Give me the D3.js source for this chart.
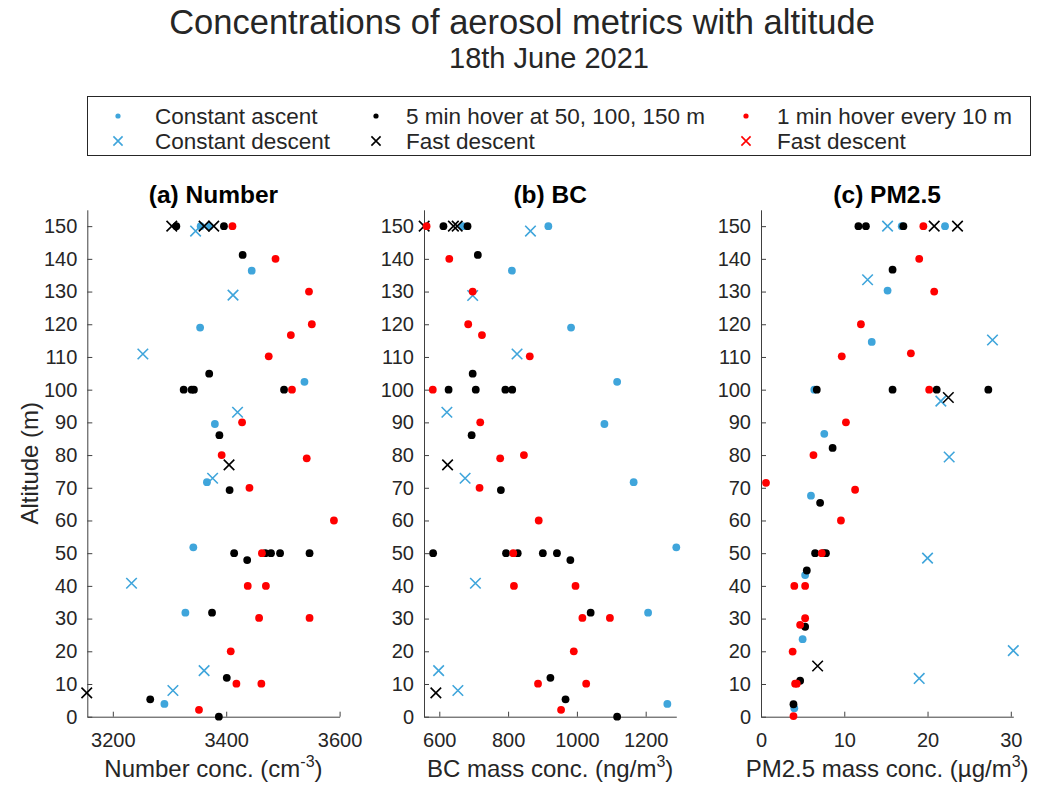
<!DOCTYPE html>
<html>
<head>
<meta charset="utf-8">
<script src="https://cdn.jsdelivr.net/npm/d3@7"></script>
<style>
  body { margin: 0; background: #fff; }
  text { font-family: "Liberation Sans", Arial, Helvetica, sans-serif; fill: #262626; }
</style>
</head>
<body>
<svg id="chart" width="1043" height="792"></svg>
<script>
const BLUE = "#3fa5db";
const RED = "#ff0000";
const BLACK = "#000000";

// [value, altitude]
const numberAscent = [[3355,150],[3370,150],[3445,136.4],[3354,119],[3538,102.4],[3380,89.5],[3366,71.7],[3342,51.8],[3328,31.8],[3291,3.9]];
const numberDescent = [[3346,148.5],[3412,128.9],[3253,110.9],[3420,93.1],[3376,72.9],[3233,40.8],[3361,14.1],[3306,8]];
const numberHover5 = [[3312,150],[3396,150],[3429,141.2],[3370,104.9],[3325,100],[3339,100],[3343,100],[3502,100],[3388,86.1],[3406,69.3],[3414,50],[3469,50],[3479,50],[3495,50],[3547,50],[3437,47.9],[3375,31.8],[3401,11.9],[3266,5.3],[3387,0]];
const numberFast = [[3304,150],[3361,150],[3378,150],[3405,77],[3154,7.3]];
const numberHover1 = [[3411,150],[3487,140],[3546,130],[3551,120],[3514,116.7],[3475,110.2],[3516,100],[3428,90],[3392,80],[3542,79],[3441,70],[3590,60],[3463,50],[3438,40],[3470,40],[3458,30.2],[3547,30.2],[3408,20],[3418,10.1],[3462,10.1],[3352,2.1]];
const numberFastRed = [];

const bcAscent = [[668,150],[917,150],[811,136.4],[983,119],[1117,102.4],[1080,89.5],[1165,71.7],[1289,51.8],[1207,31.8],[1263,3.9]];
const bcDescent = [[865,148.5],[697,128.8],[826,110.9],[622,93.1],[675,72.9],[705,40.8],[598,14.1],[654,8]];
const bcHover5 = [[612,150],[682,150],[712,141.2],[697,104.9],[627,100],[706,100],[792,100],[812,100],[694,86.1],[779,69.3],[582,50],[794,50],[828,50],[901,50],[942,50],[981,47.9],[1040,31.8],[923,11.9],[967,5.3],[1117,0]];
const bcFast = [[556,150],[641,150],[652,150],[624,77],[590,7.3]];
const bcHover1 = [[563,150],[629,140],[697,130],[684,120],[724,116.7],[863,110.2],[581,100],[719,90],[777,79],[846,80],[717,70],[889,60],[815,50],[817,40],[996,40],[1016,30.2],[1096,30.2],[991,20],[887,10.1],[1027,10.1],[954,2.1]];
const bcFastRed = [];

const pmAscent = [[16.9,150],[22.1,150],[15.2,130.3],[13.3,114.6],[6.4,100],[7.6,86.5],[6.0,67.6],[5.3,43.3],[5.0,23.7],[4.0,2.6]];
const pmDescent = [[15.2,150],[12.8,133.6],[27.8,115.2],[21.6,96.5],[22.6,79.4],[20.0,48.5],[30.3,20.2],[19.0,11.7]];
const pmHover5 = [[11.7,150],[12.6,150],[17.1,150],[15.8,136.7],[6.7,100],[15.8,100],[21.1,100],[27.3,100],[8.6,82.2],[7.1,65.4],[6.5,50],[7.5,50],[7.8,50],[5.5,44.7],[5.3,27.5],[4.7,11.0],[3.9,3.8]];
const pmFast = [[20.8,150],[23.6,150],[22.5,97.6],[6.8,15.5]];
const pmHover1 = [[19.5,150],[19.0,140],[20.8,130],[12.0,120],[18.0,111.1],[9.7,110.2],[20.2,100],[10.2,90],[6.3,80],[0.6,71.5],[11.3,69.4],[9.6,60],[7.3,50],[4.0,40],[5.3,40],[5.3,30.1],[4.7,28.1],[3.8,19.9],[4.1,10.1],[4.3,10.1],[3.9,0.2]];
const pmFastRed = [];

const altTicks = d3.range(0, 151, 10);
const numberTicks = [3200, 3400, 3600];
const bcTicks = [600, 800, 1000, 1200];
const pmTicks = [0, 10, 20, 30];

const legendLabels = ["Constant ascent", "5 min hover at 50, 100, 150 m", "1 min hover every 10 m",
                      "Constant descent", "Fast descent", "Fast descent"];

const panels = [
    { title: "(a) Number", left: 87.3, domain: [3155, 3600], ticks: numberTicks,
      series: [numberAscent, numberDescent, numberHover5, numberFast, numberHover1, numberFastRed],
      xlabel: ["Number conc. (cm", "-3", ")"] },
    { title: "(b) BC", left: 424, domain: [555.5, 1289], ticks: bcTicks,
      series: [bcAscent, bcDescent, bcHover5, bcFast, bcHover1, bcFastRed],
      xlabel: ["BC mass conc. (ng/m", "3", ")"] },
    { title: "(c) PM2.5", left: 761, domain: [0, 30.3], ticks: pmTicks,
      series: [pmAscent, pmDescent, pmHover5, pmFast, pmHover1, pmFastRed],
      xlabel: ["PM2.5 mass conc. (\u00b5g/m", "3", ")"] }
];

// style per series, same order as panel.series
const styles = [
    { color: BLUE, shape: "dot" },
    { color: BLUE, shape: "x" },
    { color: BLACK, shape: "dot" },
    { color: BLACK, shape: "x" },
    { color: RED, shape: "dot" },
    { color: RED, shape: "x" }
];

const PLOT_W = 252.3;
const TOP = 209.8;
const BOTTOM = 716.7;

const svg = d3.select("#chart");

svg.append("text")
    .attr("x", 522).attr("y", 34)
    .attr("text-anchor", "middle")
    .style("font-size", "34.5px")
    .text("Concentrations of aerosol metrics with altitude");

svg.append("text")
    .attr("x", 549).attr("y", 68)
    .attr("text-anchor", "middle")
    .style("font-size", "29px")
    .text("18th June 2021");

const y = d3.scaleLinear().domain([0, 155]).range([BOTTOM, TOP]);

function drawMarker(g, shape, color, size) {
    if (shape === "dot") {
        g.append("circle").attr("r", size).attr("fill", color);
    } else {
        const s = size * 1.35;
        g.append("path")
            .attr("d", `M${-s},${-s}L${s},${s}M${-s},${s}L${s},${-s}`)
            .attr("stroke", color)
            .attr("stroke-width", 1.6)
            .attr("fill", "none");
    }
}

panels.forEach((p, pi) => {
    const x = d3.scaleLinear().domain(p.domain).range([p.left, p.left + PLOT_W]);
    const g = svg.append("g");

    const yAxis = g.append("g")
        .attr("transform", `translate(${p.left},0)`)
        .call(d3.axisLeft(y).tickValues(altTicks).tickSizeInner(-5).tickSizeOuter(0).tickPadding(10));

    const xAxis = g.append("g")
        .attr("transform", `translate(0,${BOTTOM})`)
        .call(d3.axisBottom(x).tickValues(p.ticks).tickFormat(d3.format("d"))
            .tickSizeInner(-5).tickSizeOuter(0).tickPadding(16));

    [xAxis, yAxis].forEach(a => {
        a.select(".domain").attr("stroke", "#404040");
        a.selectAll(".tick line").attr("stroke", "#404040");
        a.selectAll(".tick text")
            .style("font-size", "20px")
            .style("font-family", "'Liberation Sans', Arial, Helvetica, sans-serif")
            .attr("fill", "#262626");
    });

    p.series.forEach((data, si) => {
        const st = styles[si];
        g.append("g").selectAll("g")
            .data(data)
            .join("g")
            .attr("transform", d => `translate(${x(d[0])},${y(d[1])})`)
            .each(function() { drawMarker(d3.select(this), st.shape, st.color, 3.9); });
    });

    g.append("text")
        .attr("x", p.left + PLOT_W / 2).attr("y", 203)
        .attr("text-anchor", "middle")
        .style("font-size", "24.5px")
        .style("font-weight", "bold")
        .style("fill", "#000")
        .text(p.title);

    const xl = g.append("text")
        .attr("x", p.left + PLOT_W / 2).attr("y", 777)
        .attr("text-anchor", "middle")
        .style("font-size", "24px");
    xl.append("tspan").text(p.xlabel[0]);
    xl.append("tspan").attr("dy", -10).style("font-size", "16px").text(p.xlabel[1]);
    xl.append("tspan").attr("dy", 10).text(p.xlabel[2]);
});

svg.append("text")
    .attr("transform", `translate(38,${(TOP + BOTTOM) / 2}) rotate(-90)`)
    .attr("text-anchor", "middle")
    .style("font-size", "24px")
    .text("Altitude (m)");

// legend
const legend = svg.append("g");
legend.append("rect")
    .attr("x", 87.5).attr("y", 96.5)
    .attr("width", 943).attr("height", 59)
    .attr("fill", "#fff")
    .attr("stroke", "#262626");

const legendCols = [{ mx: 118, tx: 155 }, { mx: 376, tx: 406 }, { mx: 746, tx: 777 }];
const legendRows = [116, 141];
const legendStyles = [styles[0], styles[2], styles[4], styles[1], styles[3], styles[5]];

legendLabels.forEach((label, i) => {
    const col = legendCols[i % 3];
    const row = legendRows[Math.floor(i / 3)];
    const st = legendStyles[i];
    const m = legend.append("g").attr("transform", `translate(${col.mx},${row})`);
    drawMarker(m, st.shape, st.color, st.shape === "dot" ? 2.6 : 3.4);
    legend.append("text")
        .attr("x", col.tx).attr("y", row)
        .attr("dy", "0.36em")
        .style("font-size", "22.5px")
        .text(label);
});
</script>
</body>
</html>
